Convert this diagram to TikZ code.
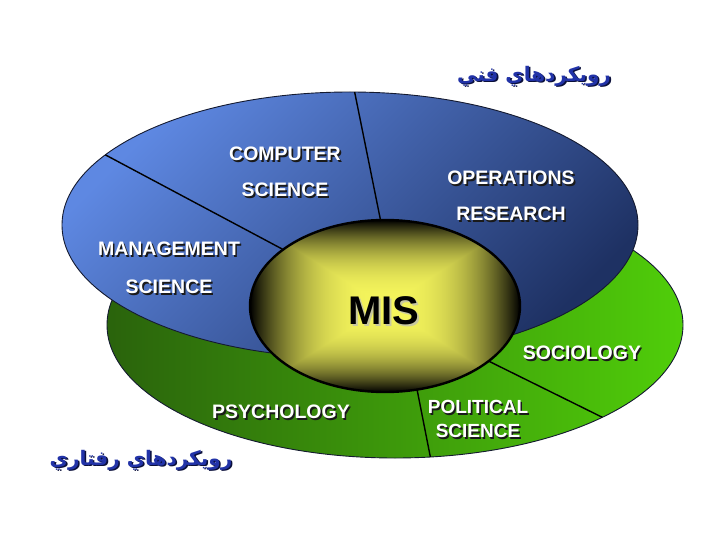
\documentclass[tikz,border=0pt]{standalone}
\usepackage{fontspec}
\setmainfont{Liberation Sans}
\newfontfamily\arabicfont[Script=Arabic]{DejaVu Sans}
\TeXXeTstate=1
\usetikzlibrary{shapes.geometric}
\pgfdeclarelayer{zones}
\pgfdeclarelayer{lines}
\pgfsetlayers{zones,lines,main}
\definecolor{bluelight}{HTML}{5E88E2}
\definecolor{bluedark}{HTML}{1E3163}
\definecolor{greendark}{HTML}{2A630C}
\definecolor{greenlight}{HTML}{50CE0A}
\definecolor{persianblue}{HTML}{2233A8}
\definecolor{persianshadow}{HTML}{0A0F3A}
\definecolor{txtshadow}{HTML}{1A1A1A}
\definecolor{misshadow}{HTML}{C8C8A0}
\definecolor{edgedark}{HTML}{141A30}
\pgfdeclarefunctionalshading{misbox}{\pgfpoint{-50bp}{-50bp}}{\pgfpoint{50bp}{50bp}}{}{
  abs 25 div exch abs 25 div
  2 copy sub abs add add 2 div
  2.5 exp
  1 exch sub
  dup 0.96 mul exch dup 0.96 mul exch 0.36 mul
}
\newcommand{\dropsh}[3][1.6pt]{\makebox[0pt][l]{\raisebox{-#1}[0pt][0pt]{\hspace*{#1}\textcolor{#2}{#3}}}#3}
\newcommand{\wl}[1]{\dropsh{txtshadow}{#1}}
\tikzset{
  zone/.style={ellipse, draw=edgedark, line width=0.9pt, inner sep=0pt, outer sep=0pt,
    minimum width=576pt, minimum height=266pt},
  divider/.style={draw=black, line width=1.4pt},
  lbl/.style={text=white, font=\bfseries\fontsize{19.5}{36}\selectfont, align=center, inner sep=0pt},
  persian/.style={text=persianblue, font=\arabicfont\bfseries\fontsize{20}{24}\selectfont, inner sep=0pt},
}
\begin{document}
\begin{tikzpicture}[x=1pt,y=-1pt]
\useasboundingbox (0,0) rectangle (720,540);
\begin{pgfonlayer}{zones}
\fill[white] (0,0) rectangle (720,540);
\node[zone, left color=greendark, right color=greenlight] (behav) at (395,325) {};
\node[zone, top color=bluelight, bottom color=bluedark, shading angle=45] (tech) at (350,225) {};
\end{pgfonlayer}
\node[ellipse, shade, shading=misbox, draw=black, line width=2.4pt, inner sep=0pt, outer sep=0pt,
  minimum width=270pt, minimum height=172pt] (mis) at (385,306) {};
\begin{pgfonlayer}{lines}
\draw[divider] (tech.164.6) -- (mis.151.5);
\draw[divider] (tech.88.3) -- (mis.93.4);
\draw[divider] (mis.-28.3) -- (behav.-24.9);
\draw[divider] (mis.-69.9) -- (behav.-75.3);
\end{pgfonlayer}
\node[inner sep=0pt, font=\bfseries\fontsize{40}{44}\selectfont] (mislabel) at (384,311) {\dropsh[2pt]{misshadow}{MIS}};
\node[lbl] (cs) at (285,172) {\wl{COMPUTER}\\\wl{SCIENCE}};
\node[lbl, font=\bfseries\fontsize{19.5}{38}\selectfont] (ms) at (169,268) {\wl{MANAGEMENT}\\\wl{SCIENCE}};
\node[lbl] (or) at (511,196) {\wl{OPERATIONS}\\\wl{RESEARCH}};
\node[lbl] (soc) at (582,353) {\wl{SOCIOLOGY}};
\node[lbl] (psy) at (281,412) {\wl{PSYCHOLOGY}};
\node[lbl, font=\bfseries\fontsize{19}{24}\selectfont] (pol) at (478,419) {\wl{POLITICAL}\\\wl{SCIENCE}};
\node[persian] (techtitle) at (534,76) {\dropsh{persianshadow}{\beginR رويكردهاي فني\endR}};
\node[persian] (behavtitle) at (141,460) {\dropsh{persianshadow}{\beginR رويكردهاي رفتاري\endR}};
\end{tikzpicture}
\end{document}
